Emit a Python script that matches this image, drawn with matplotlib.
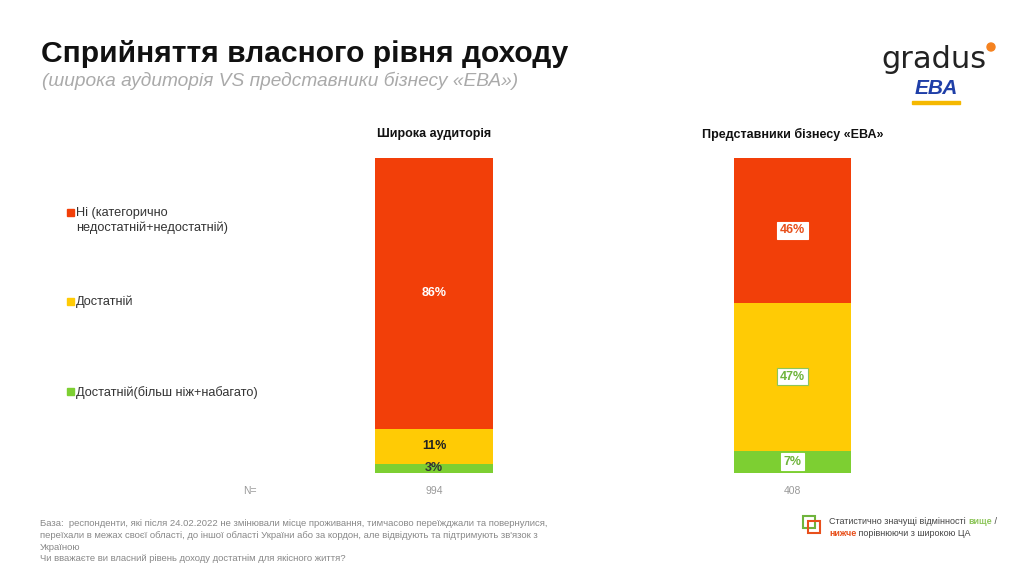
import matplotlib
matplotlib.use("Agg")
import matplotlib.pyplot as plt
from matplotlib.patches import Rectangle, Ellipse

plt.rcParams['font.family'] = ['Liberation Sans', 'DejaVu Sans']

groups = ["Широка аудиторія", "Представники бізнесу «ЕВА»"]
sample_n = ["994", "408"]
categories = ["Достатній(більш ніж+набагато)", "Достатній",
              "Ні (категорично\nнедостатній+недостатній)"]
# bottom -> top
values = {
    "Широка аудиторія": [3, 11, 86],
    "Представники бізнесу «ЕВА»": [7, 47, 46],
}
colors = ["#7DCF32", "#FFCB05", "#F23F09"]
left_text = ["#333333", "#222222", "white"]
right_sig = ["#6FB43C", "#6FB43C", "#E8501C"]

W, H = 1024, 576
fig = plt.figure(figsize=(W / 100, H / 100), dpi=100)
fig.patch.set_facecolor("white")


def px(x, y):
    return x / W, 1 - y / H


# bars axes
ax = fig.add_axes([300 / W, 1 - 473 / H, 620 / W, 315 / H])
ax.set_xlim(-0.3738, 1.3556)
ax.set_ylim(0, 100)
ax.axis("off")

bw = 0.329
for gi, g in enumerate(groups):
    bottom = 0
    for ci, v in enumerate(values[g]):
        ax.bar(gi, v, bw, bottom=bottom, color=colors[ci], linewidth=0)
        yc = bottom + v / 2
        lbl = f"{v}%"
        if gi == 0:
            ax.text(gi, yc, lbl, ha="center", va="center", fontsize=9,
                    fontweight="bold", color=left_text[ci])
        else:
            ec = "#8DC55A" if ci == 1 else "white"
            ax.text(gi, yc, lbl, ha="center", va="center", fontsize=9,
                    fontweight="bold", color=right_sig[ci],
                    bbox=dict(boxstyle="square,pad=0.2", fc="white", ec=ec, lw=0.8))
        bottom += v
    ax.text(gi, 107.5, g, ha="center", va="center", fontsize=9,
            fontweight="bold", color="#111111")
    ax.text(gi, -5.8, sample_n[gi], ha="center", va="center", fontsize=7.5,
            color="#999999")

fig.text(*px(243, 491), "N=", fontsize=7.5, color="#999999", va="center")

# legend on the left
leg_y = [391, 301, 212]
for ci in range(3):
    x0, y0 = px(67, leg_y[ci])
    fig.patches.append(Rectangle((x0, y0 - 3.5 / H), 7 / W, 7 / H,
                                 transform=fig.transFigure, color=colors[ci]))
    fig.text(*px(76, leg_y[ci] - 5), categories[ci], fontsize=9.2,
             color="#333333", va="top", linespacing=1.25)

# title
fig.text(*px(41, 54), "Сприйняття власного рівня доходу", fontsize=21.6,
         fontweight="bold", color="#111111", va="center")
fig.text(*px(42, 81), "(широка аудиторія VS представники бізнесу «ЕВА»)",
         fontsize=13.8, style="italic", color="#AAAAAA", va="center")

# logos
fig.text(*px(881, 60), "gradus", fontsize=22, color="#222222", va="center",
         family=["DejaVu Sans"])
fig.patches.append(Ellipse(px(991, 47), 8 / W, 8 / H, transform=fig.transFigure,
                           color="#F5821F"))
fig.text(*px(936, 89), "ЕВА", fontsize=15, fontweight="bold", style="italic",
         color="#1F3FA8", ha="center", va="center")
x0, y0 = px(912, 104)
fig.patches.append(Rectangle((x0, y0), 48 / W, 3 / H, transform=fig.transFigure,
                             color="#F5B800"))

# footer
footer = ("База:  респонденти, які після 24.02.2022 не змінювали місце проживання, тимчасово переїжджали та повернулися,\n"
          "переїхали в межах своєї області, до іншої області України або за кордон, але відвідують та підтримують зв'язок з\n"
          "Україною\n"
          "Чи вважаєте ви власний рівень доходу достатнім для якісного життя?")
fig.text(*px(40, 519), footer, fontsize=6.8, color="#888888", va="top",
         linespacing=1.4)

# significance legend
x0, y0 = px(803, 528)
fig.patches.append(Rectangle((x0, y0), 12 / W, 12 / H, transform=fig.transFigure,
                             fill=False, ec="#6FB43C", lw=1.5))
x0, y0 = px(808, 533)
fig.patches.append(Rectangle((x0, y0), 12 / W, 12 / H, transform=fig.transFigure,
                             fill=False, ec="#E8501C", lw=1.5))

renderer = fig.canvas.get_renderer()


def runs(x, y, parts):
    for s, c, w in parts:
        t = fig.text(*px(x, y), s, fontsize=6.5, color=c, fontweight=w, va="center")
        bb = t.get_window_extent(renderer)
        x += bb.width


runs(829, 521, [("Статистично значущі відмінності ", "#444444", "normal"),
                ("вище", "#8DC55A", "bold"), (" /", "#444444", "normal")])
runs(829, 534, [("нижче", "#E8501C", "bold"),
                (" порівнюючи з широкою ЦА", "#444444", "normal")])

fig.savefig("out.png", dpi=100, facecolor="white")
